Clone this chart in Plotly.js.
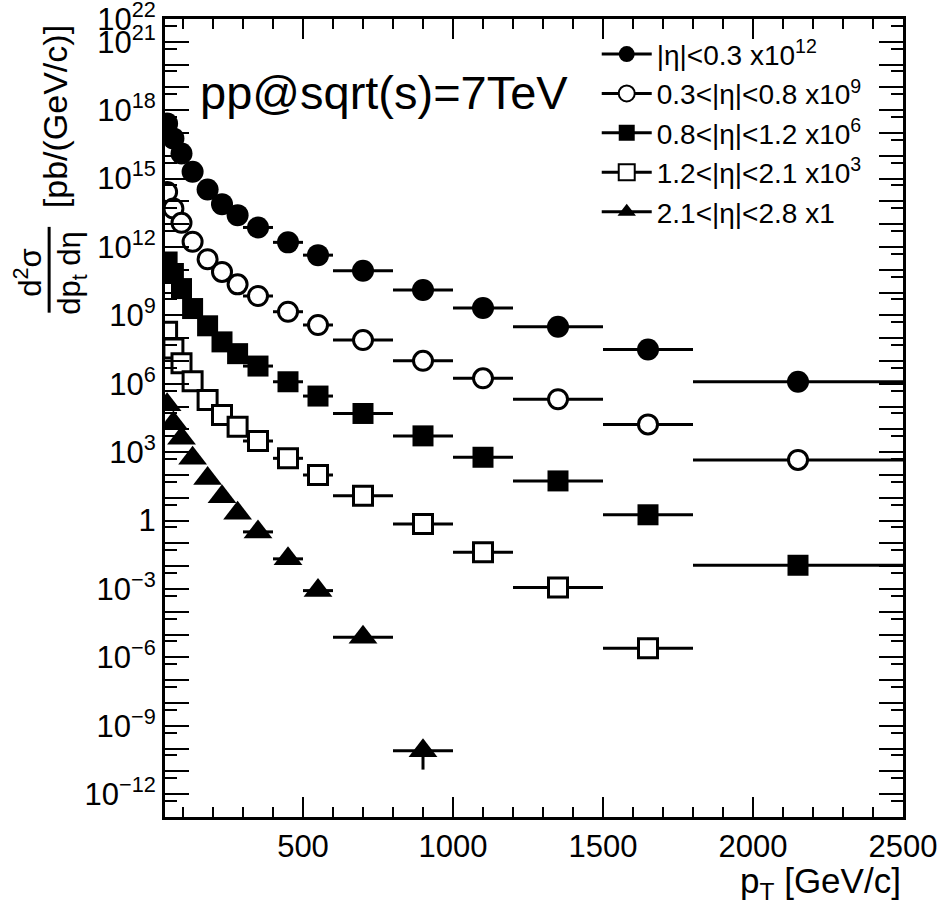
<!DOCTYPE html>
<html><head><meta charset="utf-8">
<script src="https://cdn.plot.ly/plotly-3.0.1.min.js"></script>
<style>html,body{margin:0;padding:0;background:#fff;} #chart{width:949px;height:909px;}</style>
</head><body><div id="chart"></div>
<script>
// bin centres and half widths (GeV/c)
const pT = [47, 68, 95, 132, 182, 230, 282, 350, 450, 550, 700, 900, 1100, 1350, 1650, 2150];
const binHalfWidth = [7, 10, 15, 20, 25, 25, 25, 50, 50, 50, 100, 100, 100, 150, 150, 350];

// scaled cross sections [pb/(GeV/c)]
const etaBin1 = [2.6e17, 5.8e16, 1.26e16, 2.0e15, 3.3e14, 7.6e13, 2.5e13, 7.2e12, 1.6e12, 4.4e11, 9.1e10, 1.3e10, 2.1e9, 3.2e8, 3.2e7, 1.23e6];
const etaBin2 = [2.6e14, 4.9e13, 1.15e13, 1.7e12, 2.9e11, 8.1e10, 2.3e10, 7.1e9, 1.45e9, 3.8e8, 8.3e7, 1.02e7, 1.74e6, 2.1e5, 1.66e4, 4.6e2];
const etaBin3 = [2.2e11, 6.9e10, 1.5e10, 2.0e9, 3.5e8, 6.9e7, 2.1e7, 6.0e6, 1.23e6, 2.9e5, 5.0e4, 5.2e3, 6.0e2, 55, 1.8, 1.1e-2];
const etaBin4 = [1.9e8, 3.5e7, 7.9e6, 1.3e6, 1.95e5, 4.3e4, 1.3e4, 3.1e3, 5.4e2, 1.0e2, 12.3, 0.71, 4.1e-2, 1.15e-3, 2.5e-6];
const etaBin5 = [1.2e5, 1.9e4, 4.1e3, 5.4e2, 71, 11.2, 2.1, 0.32, 2.1e-2, 8.5e-4, 7.6e-6, 8.1e-11];
const etaBin5Err = [0, 0, 0, 0, 0, 0, 0, 0, 0, 0, 0, 6.9e-11];

const legendLabels = [
  "|η|<0.3 x10<sup>12</sup>",
  "0.3<|η|<0.8 x10<sup>9</sup>",
  "0.8<|η|<1.2 x10<sup>6</sup>",
  "1.2<|η|<2.1 x10<sup>3</sup>",
  "2.1<|η|<2.8 x1"
];

const yTickVals = [], yTickText = [], yMinorVals = [];
for (let n = -13; n <= 22; n++) {
  yTickVals.push(Math.pow(10, n));
  let t = '';
  if (n === 0) t = '1';
  else if (n % 3 === 0 || n === 22) t = '10<sup>' + (n < 0 ? '\u2212' + (-n) : n) + '</sup>';
  yTickText.push(t);
  if (n < 22) yMinorVals.push(5 * Math.pow(10, n));
}
const xTickVals = [500, 1000, 1500, 2000, 2500];

const FONT = 'Liberation Sans, Arial, Helvetica, sans-serif';
const series = [
  {y: etaBin1, sym: 'circle', fill: 'black', size: 22},
  {y: etaBin2, sym: 'circle', fill: 'white', size: 19},
  {y: etaBin3, sym: 'square', fill: 'black', size: 21},
  {y: etaBin4, sym: 'square', fill: 'white', size: 19},
  {y: etaBin5, sym: 'triangle-up', fill: 'black', size: 25, err: etaBin5Err}
];

const traces = [];
series.forEach((s, i) => {
  const n = s.y.length;
  const tr = {
    type: 'scatter', mode: 'markers', x: pT.slice(0, n), y: s.y, showlegend: false,
    marker: {symbol: s.sym, size: s.size, color: s.fill, line: {color: 'black', width: s.fill === 'white' ? 3 : 0}},
    error_x: {type: 'data', array: binHalfWidth.slice(0, n), width: 0, thickness: 3, color: 'black'},
    cliponaxis: true
  };
  if (s.err) tr.error_y = {type: 'data', array: s.err, width: 0, thickness: 3, color: 'black'};
  traces.push(tr);
});
series.forEach((s, i) => {
  traces.push({
    type: 'scatter', mode: 'lines+markers', x: [null], y: [null], name: legendLabels[i],
    line: {color: 'black', width: 3},
    marker: {symbol: s.sym, size: s.size, color: s.fill, line: {color: 'black', width: s.fill === 'white' ? 2 : 0}}
  });
});

const layout = {
  width: 949, height: 909,
  margin: {l: 165, r: 46, t: 19, b: 92},
  paper_bgcolor: 'white', plot_bgcolor: 'white',
  font: {family: FONT, color: 'black', size: 31},
  showlegend: true,
  legend: {x: 0.585, y: 0.987, xanchor: 'left', yanchor: 'top', bgcolor: 'rgba(0,0,0,0)',
           font: {family: FONT, size: 28, color: 'black'}, itemwidth: 50},
  xaxis: {
    range: [40, 2500], tickmode: 'array', tickvals: xTickVals,
    ticks: 'inside', ticklen: 20, tickwidth: 2, tickcolor: 'black',
    minor: {tickmode: 'linear', tick0: 0, dtick: 100, ticks: 'inside', ticklen: 10, tickwidth: 2, tickcolor: 'black'},
    showline: true, linewidth: 3, linecolor: 'black', mirror: 'ticks',
    showgrid: false, zeroline: false, ticklabeloverflow: 'allow',
    tickfont: {family: FONT, size: 31, color: 'black'}
  },
  yaxis: {
    type: 'log', range: [-13, 22.0005], tickmode: 'array', tickvals: yTickVals, ticktext: yTickText,
    ticks: 'inside', ticklen: 24, tickwidth: 2, tickcolor: 'black',
    minor: {tickmode: 'array', tickvals: yMinorVals, ticks: 'inside', ticklen: 12, tickwidth: 2, tickcolor: 'black'},
    showline: true, linewidth: 3, linecolor: 'black', mirror: 'ticks',
    showgrid: false, zeroline: false, ticklabeloverflow: 'allow',
    tickfont: {family: FONT, size: 31, color: 'black'}
  },
  annotations: [
    {text: 'pp@sqrt(s)=7TeV', xref: 'paper', yref: 'paper', x: 0.045, y: 0.908, xanchor: 'left', yanchor: 'middle', showarrow: false, font: {family: FONT, size: 47}},
    {text: 'p<sub>T</sub> [GeV/c]', xref: 'paper', yref: 'paper', x: 1.0, y: -0.083, xanchor: 'right', yanchor: 'middle', showarrow: false, font: {family: FONT, size: 35}},
    {text: '[pb/(GeV/c)]', textangle: -90, xref: 'paper', yref: 'paper', x: -0.149, y: 0.877, xanchor: 'center', yanchor: 'middle', showarrow: false, font: {family: FONT, size: 34}},
    {text: 'd<sup>2</sup>σ', textangle: -90, xref: 'paper', yref: 'paper', x: -0.1856, y: 0.682, xanchor: 'center', yanchor: 'middle', showarrow: false, font: {family: FONT, size: 31}},
    {text: 'dp<sub>t</sub> dη', textangle: -90, xref: 'paper', yref: 'paper', x: -0.126, y: 0.682, xanchor: 'center', yanchor: 'middle', showarrow: false, font: {family: FONT, size: 31}}
  ],
  shapes: [
    {type: 'line', xref: 'paper', yref: 'paper', x0: -0.157, x1: -0.157, y0: 0.7395, y1: 0.632, line: {color: 'black', width: 3}}
  ]
};

Plotly.newPlot('chart', traces, layout, {staticPlot: true, displayModeBar: false});
</script></body></html>
